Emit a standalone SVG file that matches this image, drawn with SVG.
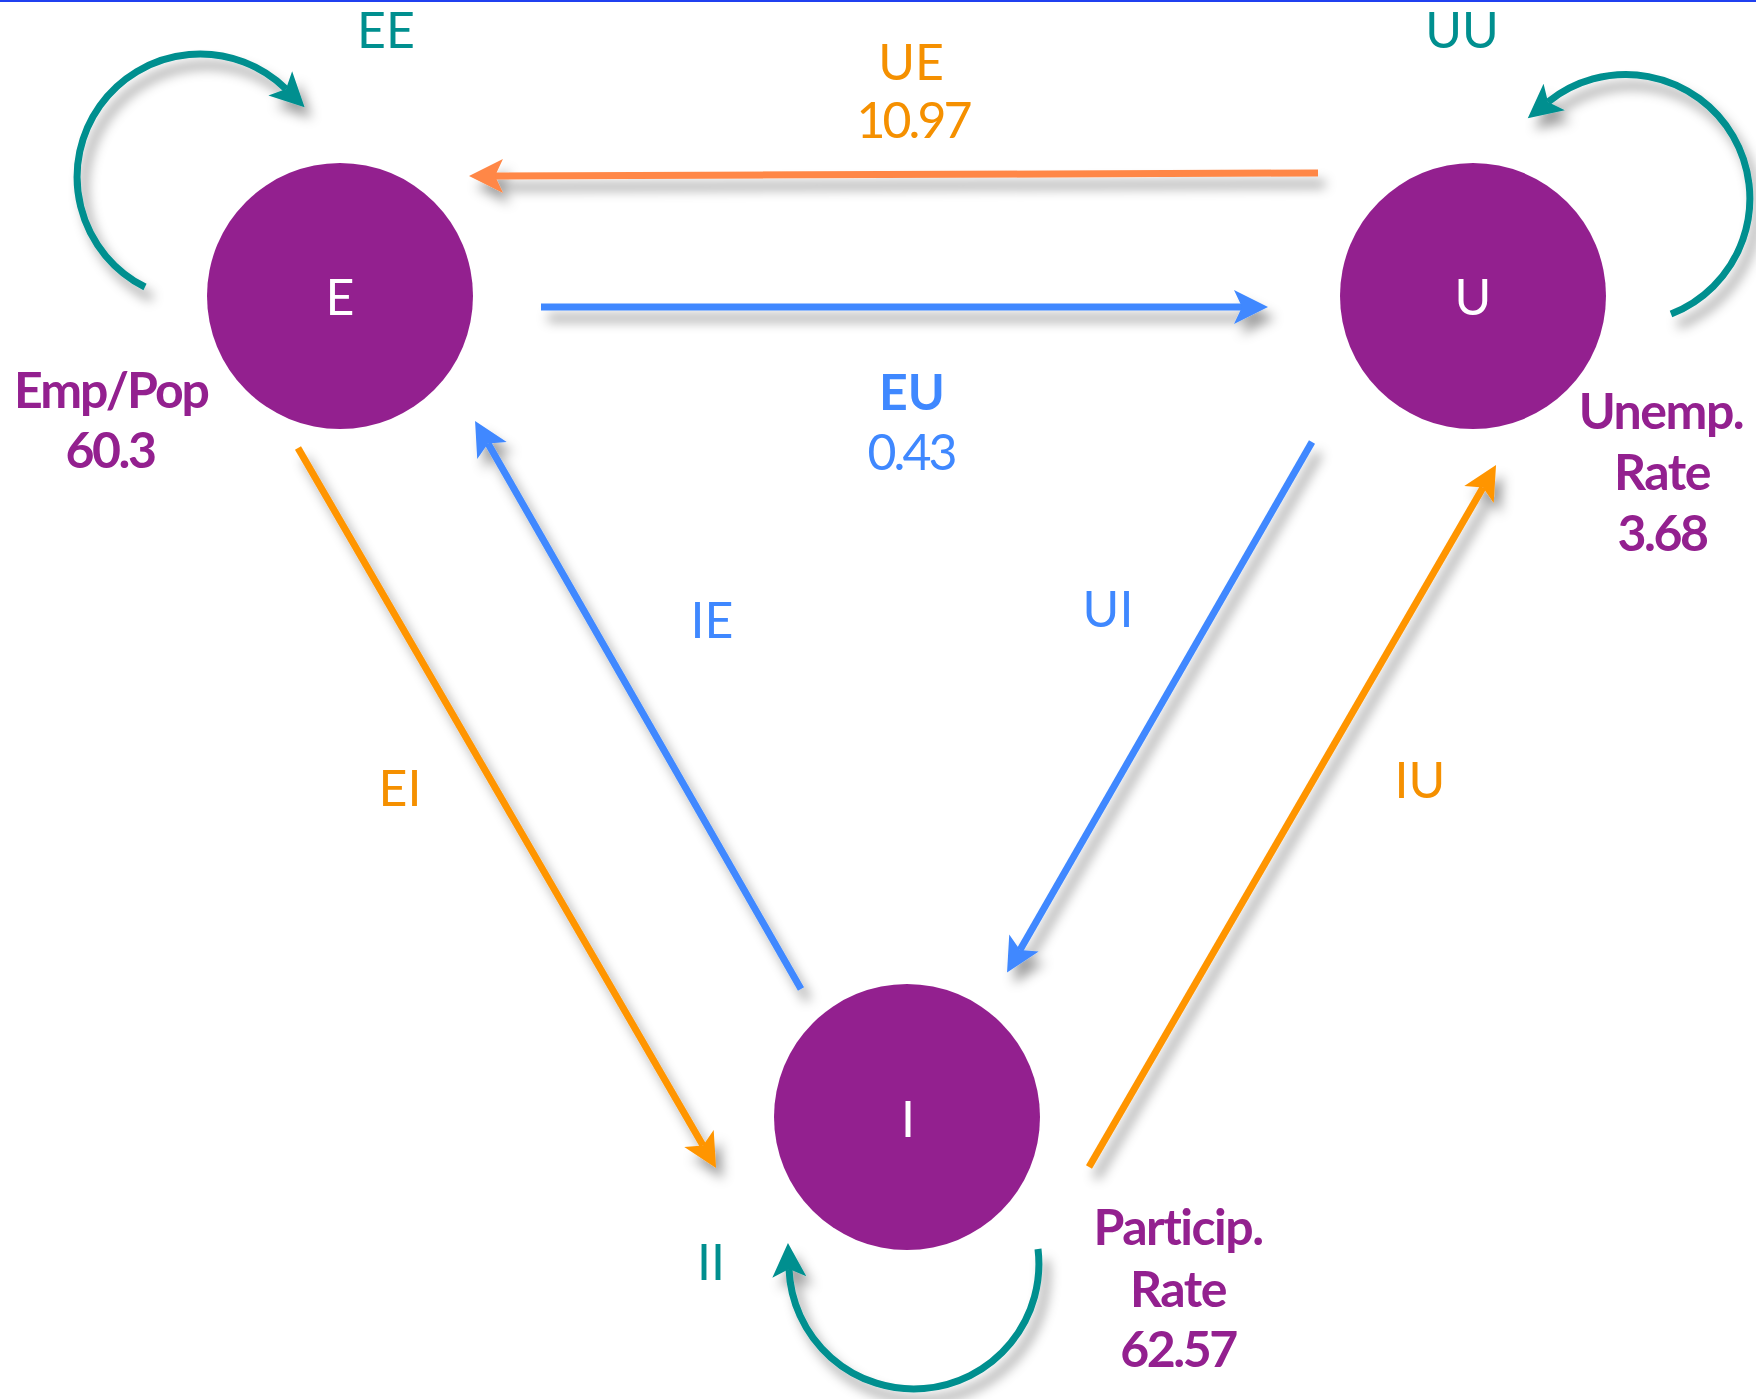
<svg xmlns="http://www.w3.org/2000/svg" width="1756" height="1399" viewBox="0 0 1756 1399">
<style>
text{font-family:Lato,"Open Sans","Liberation Sans",sans-serif;font-size:50px;text-anchor:middle}
.node{fill:#93208f}
.nl{fill:#ffffff}
.pl{fill:#93208f;font-weight:bold;letter-spacing:-1.5px}
.pn{letter-spacing:-2.5px}
.rn{letter-spacing:-3px}
.teal{fill:#008f8f}
.blue{fill:#3f88ff}
.orng{fill:#f59000}
.c{fill:none;stroke-width:7}
.cb{stroke:#3f88ff}
.co{stroke:#ff9500}
.cc{stroke:#ff8746}
.ct{stroke:#008f8f}
</style>
<defs>
<filter id="sh" x="-20%" y="-20%" width="140%" height="140%">
<feDropShadow dx="7" dy="11" stdDeviation="6" flood-color="#000" flood-opacity="0.38"/>
</filter>
<marker id="ab" markerUnits="userSpaceOnUse" viewBox="-12 -20 42 40" markerWidth="42" markerHeight="40" refX="0" refY="0" orient="auto"><path d="M26,0 L-8,-17 L0,0 L-8,17 Z" fill="#3f88ff"/></marker>
<marker id="ao" markerUnits="userSpaceOnUse" viewBox="-12 -20 42 40" markerWidth="42" markerHeight="40" refX="0" refY="0" orient="auto"><path d="M26,0 L-8,-17 L0,0 L-8,17 Z" fill="#ff9500"/></marker>
<marker id="ac" markerUnits="userSpaceOnUse" viewBox="-12 -20 42 40" markerWidth="42" markerHeight="40" refX="0" refY="0" orient="auto"><path d="M26,0 L-8,-17 L0,0 L-8,17 Z" fill="#ff8746"/></marker>
<marker id="at" markerUnits="userSpaceOnUse" viewBox="-12 -20 42 40" markerWidth="42" markerHeight="40" refX="0" refY="0" orient="auto"><path d="M26,0 L-8,-17 L0,0 L-8,17 Z" fill="#008f8f"/></marker>
</defs>
<rect x="0" y="0" width="1756" height="1399" fill="#ffffff"/>
<rect x="0" y="0" width="1756" height="2" fill="#2040f0"/>
<g id="connectors" filter="url(#sh)">
<path id="UE" class="c cc" d="M1318,173 L495,176" marker-end="url(#ac)"/>
<path id="EU" class="c cb" d="M541,307 L1242,307" marker-end="url(#ab)"/>
<path id="UI" class="c cb" d="M1312,442 L1020,950" marker-end="url(#ab)"/>
<path id="IU" class="c co" d="M1089,1167 L1483,487.5" marker-end="url(#ao)"/>
<path id="IE" class="c cb" d="M801,989 L488,443.5" marker-end="url(#ab)"/>
<path id="EI" class="c co" d="M298,448 L703,1145.5" marker-end="url(#ao)"/>
<path id="EE" class="c ct" d="M145,287 A123,123 0 1 1 286,89" marker-end="url(#at)"/>
<path id="UU" class="c ct" d="M1671,314 A124,124 0 1 0 1548,102" marker-end="url(#at)"/>
<path id="II" class="c ct" d="M1038,1249 A125,125 0 1 1 789,1269" marker-end="url(#at)"/>
</g>
<g id="node-E">
<circle class="node" cx="340" cy="296" r="133"/>
<text class="nl" x="340" y="315">E</text>
<text class="pl" x="111" y="408" style="letter-spacing:-2px">Emp/Pop</text>
<text class="pl pn" x="110" y="468">60.3</text>
</g>
<g id="node-U">
<circle class="node" cx="1473" cy="296" r="133"/>
<text class="nl" x="1473" y="315">U</text>
<text class="pl" x="1661" y="429">Unemp.</text>
<text class="pl" x="1662" y="490">Rate</text>
<text class="pl pn" x="1662" y="551">3.68</text>
</g>
<g id="node-I">
<circle class="node" cx="907" cy="1117" r="133"/>
<text class="nl" x="908" y="1137">I</text>
<text class="pl" x="1178" y="1245">Particip.</text>
<text class="pl" x="1178" y="1307">Rate</text>
<text class="pl pn" x="1178" y="1367">62.57</text>
</g>
<g id="labels">
<text class="teal" x="386" y="48">EE</text>
<text class="teal" x="1462" y="48">UU</text>
<text class="teal" x="711" y="1280">II</text>
<text class="orng" x="911" y="80">UE</text>
<text class="orng rn" x="913" y="138">10.97</text>
<text class="blue" x="912" y="410" font-weight="bold">EU</text>
<text class="blue rn" x="911" y="470">0.43</text>
<text class="blue" x="712" y="638">IE</text>
<text class="blue" x="1108" y="627">UI</text>
<text class="orng" x="400" y="806">EI</text>
<text class="orng" x="1420" y="798">IU</text>
</g>
</svg>
